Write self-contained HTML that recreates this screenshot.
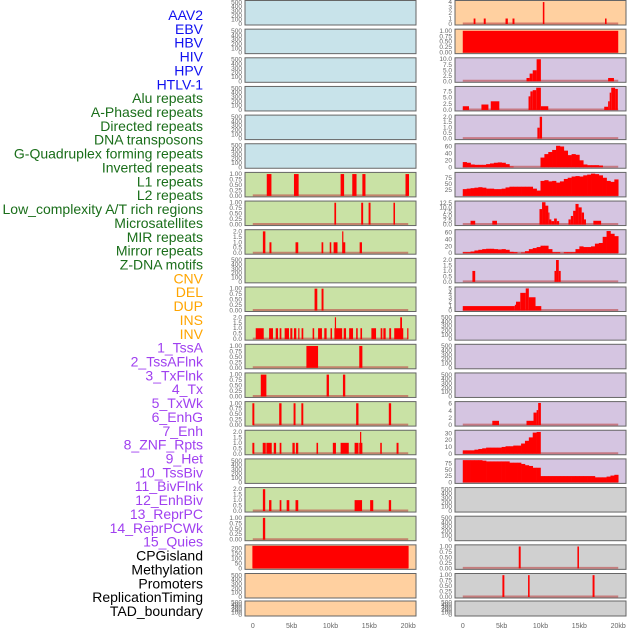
<!DOCTYPE html>
<html><head><meta charset="utf-8"><style>
html,body{margin:0;padding:0;background:#fff;width:630px;height:630px;overflow:hidden}
svg{display:block;font-family:"Liberation Sans","DejaVu Sans",sans-serif}
</style></head><body>
<svg id="chart" width="630" height="630"></svg>
<script>
// ---------- data ----------
const labelTexts = ["AAV2","EBV","HBV","HIV","HPV","HTLV-1","Alu repeats","A-Phased repeats","Directed repeats","DNA transposons","G-Quadruplex forming repeats","Inverted repeats","L1 repeats","L2 repeats","Low_complexity A/T rich regions","Microsatellites","MIR repeats","Mirror repeats","Z-DNA motifs","CNV","DEL","DUP","INS","INV","1_TssA","2_TssAFlnk","3_TxFlnk","4_Tx","5_TxWk","6_EnhG","7_Enh","8_ZNF_Rpts","9_Het","10_TssBiv","11_BivFlnk","12_EnhBiv","13_ReprPC","14_ReprPCWk","15_Quies","CPGisland","Methylation","Promoters","ReplicationTiming","TAD_boundary"];
const labelGroups = [0,0,0,0,0,0,1,1,1,1,1,1,1,1,1,1,1,1,1,2,2,2,2,2,3,3,3,3,3,3,3,3,3,3,3,3,3,3,3,4,4,4,4,4];
const groupColors = ["#1010f0","#1a6e1a","#ffa500","#a040f0","#000000"];

const xTickValues = [0,5,10,15,20];
const xTickLabels = ["0","5kb","10kb","15kb","20kb"];

const T_EMPTY = ["0","100","200","300","400","500"];
const T_ONE = ["0.00","0.25","0.50","0.75","1.00"];
const T_TWO = ["0.0","0.5","1.0","1.5","2.0"];

const bgLeft  = ["#c8e3ea","#c8e3ea","#c8e3ea","#c8e3ea","#c8e3ea","#c8e3ea","#c9e2a5","#c9e2a5","#c9e2a5","#c9e2a5","#c9e2a5","#c9e2a5","#c9e2a5","#c9e2a5","#c9e2a5","#c9e2a5","#c9e2a5","#c9e2a5","#c9e2a5","#ffd0a0","#ffd0a0","#ffd0a0"];
const bgRight = ["#ffd0a0","#ffd0a0","#d5c5e1","#d5c5e1","#d5c5e1","#d5c5e1","#d5c5e1","#d5c5e1","#d5c5e1","#d5c5e1","#d5c5e1","#d5c5e1","#d5c5e1","#d5c5e1","#d5c5e1","#d5c5e1","#d5c5e1","#d0d0d0","#d0d0d0","#d0d0d0","#d0d0d0","#d0d0d0"];

// bars: [startKb, endKb, value]
const L6 = [[1.8,2.4,1],[5.3,5.9,1],[11.3,11.75,1],[12.8,13.35,1],[14.1,14.5,1],[19.65,20.1,1]];
const L7 = [[10.5,10.72,1],[13.95,14.2,1],[14.9,15.15,1],[18.1,18.3,1]];
const L8 = [[1.3,1.62,2],[2.15,2.4,1],[5.5,5.85,1],[8.85,9.07,1],[9.9,10.1,1],[10.4,10.9,1],[11.6,11.9,1],[11.5,11.6,2],[13.75,14.05,1]];
const L10 = [[7.95,8.3,1],[8.85,9.1,1]];
const L11 = [[0.38,1.41,1],[2.1,2.6,1],[2.95,3.25,1],[3.46,3.68,1],[4.1,4.66,1],[4.83,5.09,1],[5.3,5.6,1],[5.85,6.0,1],[6.28,6.5,1],[7.7,7.9,1],[8.4,8.9,1],[9.2,9.5,1],[10.0,10.2,1],[10.5,11.5,1],[10.56,10.7,2],[11.7,12.0,1],[12.4,12.9,1],[13.3,13.5,1],[13.85,14.06,1],[15.26,15.86,1],[16.45,16.67,1],[16.8,17.1,1],[17.56,17.8,1],[18.2,19.36,1],[18.97,19.2,2],[19.87,20.0,1]];
const L12 = [[6.9,8.4,1],[13.7,14.1,1]];
const L13 = [[1.03,1.75,1],[9.5,9.8,1],[11.6,11.9,1]];
const L14 = [[-0.05,0.2,1],[3.4,3.7,1],[5.25,5.5,1],[6.25,6.5,1],[13.3,13.6,1],[17.5,17.8,1]];
const L15 = [[-0.05,0.2,1],[1.28,1.67,1],[1.75,2.44,1],[2.7,3.0,1],[3.46,3.68,1],[5.1,5.4,1],[5.55,5.85,1],[8.2,8.4,1],[10.3,10.7,1],[11.3,12.35,1],[13.1,13.6,1],[13.7,14.1,1],[13.8,13.9,2],[16.4,16.6,1],[18.5,18.75,1]];
const L17 = [[1.3,1.6,2],[2.1,2.4,1],[3.46,3.68,1],[4.36,4.7,1],[5.5,5.85,1],[13.1,14.06,1],[15.1,15.5,1],[17.5,17.8,1]];
const L18 = [[1.3,1.6,1]];
const L19 = [[-0.05,20.05,225]];

const R0 = [[1.4,1.63,1],[2.7,2.95,1],[5.5,5.8,1],[6.4,6.65,1],[10.3,10.5,4],[18.3,18.5,1]];
const R1 = [[0,20,1]];
const R2 = [[8.2,8.6,1.5],[8.6,9.0,3.5],[9.0,9.5,5],[9.5,10.05,10],[18.7,19.45,1.5]];
const R3 = [[0,0.8,1.5],[2.4,3.3,2.2],[3.6,4.7,3.5],[8.46,8.7,5.5],[8.7,9.0,7.5],[9.0,9.45,8],[9.45,10.05,9],[10.05,11.0,1.5],[18.2,18.7,1.3],[18.7,18.9,3.5],[18.9,19.1,7],[19.1,19.6,9],[19.6,19.95,8.5]];
const R4 = [[9.6,9.9,1],[9.9,10.2,2]];
const R7 = [[1.0,1.6,2.2],[3.8,4.4,2.2],[9.87,10.2,9],[10.2,10.64,13],[10.64,11.0,11],[11.0,11.15,7],[11.15,11.4,3],[11.4,11.75,2],[11.75,12.1,3.5],[12.1,12.4,2],[13.6,13.9,3],[13.9,14.2,5],[14.2,14.5,8],[14.5,14.9,12],[14.9,15.3,10],[15.3,15.6,7],[15.6,15.85,3],[16.8,17.8,2.2]];
const R9 = [[1.24,1.6,1],[11.8,12.0,1],[12.0,12.35,2],[12.35,12.6,1]];
const R10 = [[0,6.7,1],[6.7,6.85,1.3],[6.85,7.4,2],[7.4,8.1,4],[8.1,8.5,5],[8.5,9.36,3],[9.36,10.1,1]];
const R14 = [[3.8,4.66,1.2],[8.2,9.1,1.2],[9.1,9.5,3.5],[9.5,9.7,4.2],[9.7,10.05,6.2]];
const R19 = [[7.2,7.45,1],[14.75,14.95,1]];
const R20 = [[5.1,5.35,1],[8.4,8.6,1],[16.7,16.95,1]];

// profiles: values per 0.5kb bin starting at 0kb
const R5_bins = [15,13,8,7,7,7,9,11,13,14,13,9,2,0,0,0,0,0,0,0,28,38,44,50,62,60,48,35,38,36,20,8,6,6,6,5,0,0,0,0];
const R6_bins = [28,30,32,34,36,34,30,30,28,28,30,35,38,38,38,38,38,38,30,22,62,65,60,62,55,60,70,75,80,82,80,85,88,92,90,85,75,62,58,68];
const R8_bins = [3,3,5,8,10,12,13,13,12,11,12,10,4,3,0,2,6,12,15,18,22,22,12,3,3,0,3,3,3,12,20,18,18,20,28,30,48,65,57,50];
const R15_bins = [5,5,5,6,7,8,9,9,9,9,10,11,11,12,12,15,19,24,31,32,0,0,0,0,0,0,0,0,0,0,0,0,0,0,0,0,0,0,0,0];
const R16_bins = [88,88,88,88,88,86,83,83,83,83,83,83,78,78,78,73,68,65,58,58,25,25,25,25,25,25,25,25,25,25,25,25,25,25,20,20,20,23,27,30];

// ---------- drawing ----------
const NS = "http://www.w3.org/2000/svg";
const svg = document.getElementById("chart");
function mk(tag, attrs, parent){ const e=document.createElementNS(NS,tag); for(const k in attrs) e.setAttribute(k,attrs[k]); (parent||svg).appendChild(e); return e; }

labelTexts.forEach((t,i)=>{
  const el = mk("text",{x:203,y:20+13.86*i,"text-anchor":"end","font-size":14,fill:groupColors[labelGroups[i]]});
  el.textContent = t;
  
  
});

function rowTop(k){ return k<21 ? 0.5+28.65*k : 601; }
function rowH(k){ return k<21 ? 24.5 : 15; }
function xScale(col, kb){ return (col?455:245) + (kb+1)/22*171; }

function drawPanel(col, k, bg, ticks, ymax, bars, bins){
  const g = mk("g",{});
  
  
  const x0 = col?455:245, w=171, top=rowTop(k), h=rowH(k);
  const y = v => top + h - 1 - v/ymax*(h-2);
  mk("rect",{x:x0,y:top,width:w,height:h,fill:bg},g);
  if (bars || bins) {
    const bl = mk("line",{x1:xScale(col,0),x2:xScale(col,20),y1:y(0)-0.5,y2:y(0)-0.5,stroke:"rgba(190,70,70,0.6)","stroke-width":2},g);
    
    
  }
  if (bars) bars.forEach(b=>{
    const xa=xScale(col,b[0]), xb=xScale(col,b[1]);
    const r = mk("rect",{x:xa,y:y(b[2]),width:Math.max(1.2,xb-xa),height:y(0)-y(b[2]),fill:"#ff0000"},g);
    
    
  });
  if (bins) bins.forEach((v,i)=>{
    if (v<=0) return;
    const xa=xScale(col,i*0.5), xb=xScale(col,(i+1)*0.5);
    const r = mk("rect",{x:xa,y:y(v),width:xb-xa+0.3,height:y(0)-y(v),fill:"#ff0000"},g);
    
    
  });
  mk("rect",{x:x0,y:top,width:w,height:h,fill:"none",stroke:"#666","stroke-width":1},g);
  ticks.forEach(t=>{
    const tv = parseFloat(t);
    const tx = mk("text",{x:x0-3,y:y(tv)+2,"text-anchor":"end","font-size":6.5,fill:"#666"},g);
    tx.textContent = t;
    
    
  });
}

const leftSpec = {6:[T_ONE,1.03,L6],7:[T_ONE,1.03,L7],8:[T_TWO,2.06,L8],10:[T_ONE,1.03,L10],11:[T_TWO,2.06,L11],12:[T_ONE,1.03,L12],13:[T_ONE,1.03,L13],14:[T_ONE,1.03,L14],15:[T_TWO,2.06,L15],17:[T_TWO,2.06,L17],18:[T_ONE,1.03,L18],19:[["0","50","100","150","200"],225,L19]};
for (let k=0;k<22;k++){
  const s = leftSpec[k];
  if (s) drawPanel(0,k,bgLeft[k],s[0],s[1],s[2],null);
  else drawPanel(0,k,bgLeft[k],T_EMPTY,520,null,null);
}
const rightSpec = {
  0:[["0","1","2","3","4"],4.1,R0,null],
  1:[T_ONE,1.03,R1,null],
  2:[["0.0","2.5","5.0","7.5","10.0"],10.2,R2,null],
  3:[["0.0","2.5","5.0","7.5"],9.1,R3,null],
  4:[T_TWO,2.06,R4,null],
  5:[["0","20","40","60"],65,null,R5_bins],
  6:[["25","50","75"],93,null,R6_bins],
  7:[["0.0","2.5","5.0","7.5","10.0","12.5"],13.1,R7,null],
  8:[["0","20","40","60"],66,null,R8_bins],
  9:[T_TWO,2.06,R9,null],
  10:[["0","1","2","3","4","5"],5.1,R10,null],
  14:[["0","2","4","6"],6.3,R14,null],
  15:[["0","10","20","30"],33,null,R15_bins],
  16:[["0","25","50","75"],89,null,R16_bins],
  19:[T_ONE,1.03,R19,null],
  20:[T_ONE,1.03,R20,null]
};
for (let k=0;k<22;k++){
  const s = rightSpec[k];
  if (s) drawPanel(1,k,bgRight[k],s[0],s[1],s[2],s[3]);
  else drawPanel(1,k,bgRight[k],T_EMPTY,520,null,null);
}

[0,1].forEach(col=>{
  xTickValues.forEach((v,i)=>{
    const t = mk("text",{x:xScale(col,v),y:628,"text-anchor":"middle","font-size":7,fill:"#666"});
    t.textContent = xTickLabels[i];
    
    
  });
});
</script>
</body></html>
